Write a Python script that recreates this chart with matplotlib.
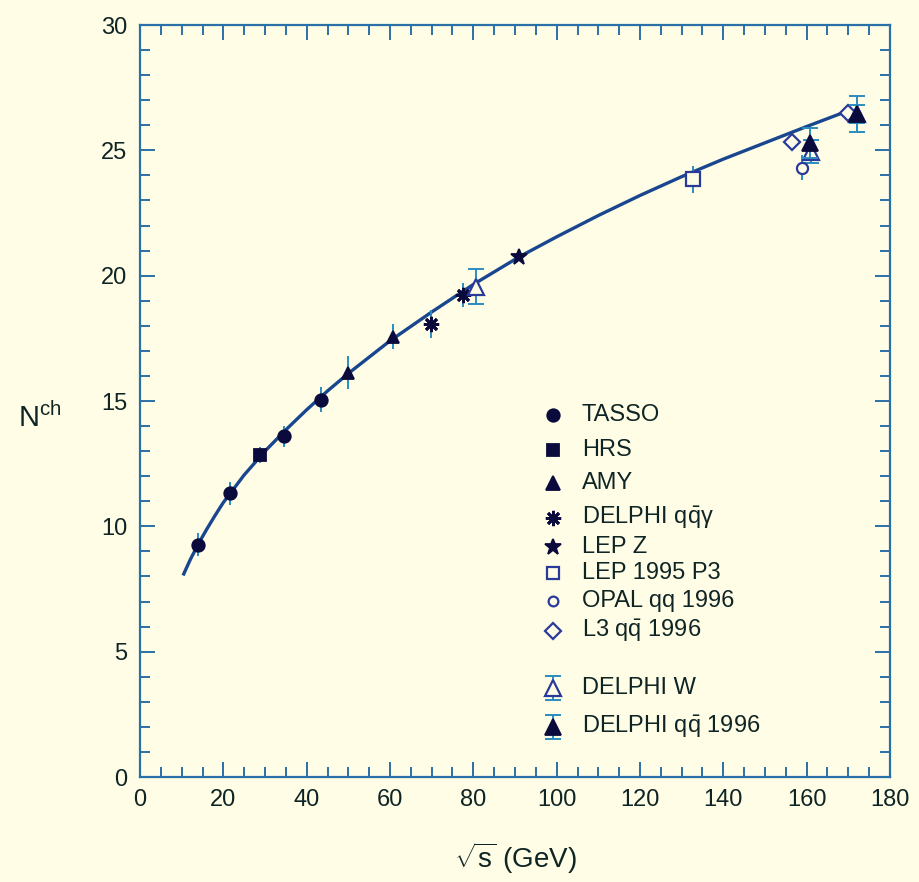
import matplotlib
matplotlib.use("Agg")
import matplotlib.pyplot as plt

plt.rcParams['font.family'] = ['Liberation Sans', 'DejaVu Sans']
plt.rcParams['mathtext.fontset'] = 'custom'
plt.rcParams['mathtext.rm'] = 'Liberation Sans'
plt.rcParams['mathtext.it'] = 'Liberation Sans:italic'
plt.rcParams['mathtext.bf'] = 'Liberation Sans:bold'

# ---------------- data ----------------
curve_x = [10.5, 12, 14, 16, 18, 20, 25, 30, 35, 40, 45, 50, 60, 70, 80, 91,
           100, 110, 120, 130, 140, 150, 160, 169.5]
curve_y = [8.1, 8.65, 9.3, 9.88, 10.43, 10.95, 12.05, 13.0, 13.85, 14.65, 15.4, 16.1,
           17.4, 18.55, 19.65, 20.75, 21.55, 22.4, 23.2, 23.95, 24.65, 25.3, 25.95, 26.55]

tasso_x = [13.8, 21.6, 34.6, 43.4]
tasso_y = [9.27, 11.32, 13.6, 15.05]
tasso_e = [0.45, 0.45, 0.42, 0.5]

hrs_x = [28.8]
hrs_y = [12.84]
hrs_e = [0.33]

amy_x = [49.8, 60.8]
amy_y = [16.13, 17.56]
amy_e = [0.65, 0.5]

dqqg_x = [69.8, 77.6]
dqqg_y = [18.07, 19.23]
dqqg_e = [0.55, 0.47]

lepz_x = [91.0]
lepz_y = [20.75]
lepz_e = [0.15]

lep95_x = [132.8]
lep95_y = [23.84]
lep95_e = [0.55]

opal_x = [158.8]
opal_y = [24.31]
opal_e = [0.5]

l3_x = [156.6, 169.8]
l3_y = [25.35, 26.47]
l3_e = [0.3, 0.3]

dw_x = [80.6, 161.0, 172.2]
dw_y = [19.56, 24.95, 26.45]
dw_e = [0.7, 0.45, 0.7]

dqq_x = [160.8, 172.2]
dqq_y = [25.3, 26.45]
dqq_e = [0.6, 0.35]

legend_labels = ['TASSO', 'HRS', 'AMY', r'DELPHI q$\mathrm{\bar{q}}$γ', 'LEP Z',
                 'LEP 1995 P3', 'OPAL qq 1996', r'L3 q$\mathrm{\bar{q}}$ 1996',
                 'DELPHI W', r'DELPHI q$\mathrm{\bar{q}}$ 1996']

xticks = [0, 20, 40, 60, 80, 100, 120, 140, 160, 180]
yticks = [0, 5, 10, 15, 20, 25, 30]

# ---------------- style ----------------
BG = '#FFFDE6'
AXC = '#2a70a8'
TXT = '#0f2424'
CURVE = '#18468f'
FILL = '#0a0a3c'
OPEN = '#2a3a9a'
ERR = '#2a8cc0'

fig = plt.figure(figsize=(9.2, 8.82), dpi=100, facecolor=BG)
ax = fig.add_axes([140/920, 1-777/882, 750/920, 752/882], facecolor=BG)

ax.plot(curve_x, curve_y, color=CURVE, lw=2.4, zorder=2)

def pts(x, y, e, marker, ms, filled=True, mew=1.3, capsize=0, z=3):
    ax.errorbar(x, y, yerr=e, fmt='none', ecolor=ERR, elinewidth=1.4,
                capsize=capsize, capthick=1.4, zorder=z)
    if filled:
        ax.plot(x, y, ls='none', marker=marker, ms=ms, mfc=FILL, mec=FILL,
                mew=mew, zorder=z + 1)
    else:
        ax.plot(x, y, ls='none', marker=marker, ms=ms, mfc=BG, mec=OPEN,
                mew=mew, zorder=z + 1)

pts(tasso_x, tasso_y, tasso_e, 'o', 9)
pts(hrs_x, hrs_y, hrs_e, 's', 8)
pts(amy_x, amy_y, amy_e, '^', 9)
pts(dqqg_x, dqqg_y, dqqg_e, (8, 2, 0), 11, mew=2.0)
pts(lepz_x, lepz_y, lepz_e, '*', 12)
pts(lep95_x, lep95_y, lep95_e, 's', 10, filled=False, mew=1.6)
pts(opal_x, opal_y, opal_e, 'o', 8, filled=False, mew=1.6)
pts(l3_x, l3_y, l3_e, 'D', 8, filled=False, mew=1.6)
pts(dw_x, dw_y, dw_e, '^', 11, filled=False, mew=1.6, capsize=6)
pts(dqq_x, dqq_y, dqq_e, '^', 11, capsize=6, z=5)

ax.set_xlim(0, 180)
ax.set_ylim(0, 30)
ax.set_xticks(xticks)
ax.set_yticks(yticks)
ax.set_xticks(range(0, 181, 5), minor=True)
ax.set_yticks(range(0, 31, 1), minor=True)
ax.tick_params(which='both', direction='in', top=True, right=True, color=AXC,
               width=1.4, labelcolor=TXT, labelsize=17)
ax.tick_params(which='major', length=11, pad=9)
ax.tick_params(which='minor', length=7)
for s in ax.spines.values():
    s.set_color(AXC)
    s.set_linewidth(1.6)

# legend drawn manually
mx = (553 - 140) / 750
tx = (582 - 140) / 750
rows_px = [415, 450, 483, 518, 547, 573, 601, 631, 688, 727]
specs = [('o', 9, True, 1.3), ('s', 8, True, 1.3), ('^', 10, True, 1.3),
         ((8, 2, 0), 11, True, 2.0), ('*', 12, True, 1.3), ('s', 9, False, 1.6),
         ('o', 7, False, 1.6), ('D', 8, False, 1.6), ('^', 11, False, 1.6),
         ('^', 11, True, 1.3)]
for i, (lab, ypx, (m, ms, f, mew)) in enumerate(zip(legend_labels, rows_px, specs)):
    yy = (777 - ypx) / 752
    if i >= 8:
        ax.errorbar([mx], [yy], yerr=[0.016], fmt='none', ecolor=ERR,
                    elinewidth=1.4, capsize=6, capthick=1.4,
                    transform=ax.transAxes, zorder=3)
    ax.plot([mx], [yy], ls='none', marker=m, ms=ms,
            mfc=FILL if f else BG, mec=FILL if f else OPEN, mew=mew,
            transform=ax.transAxes, zorder=4, clip_on=False)
    ax.text(tx, yy, lab, transform=ax.transAxes, va='center', ha='left',
            fontsize=17, color=TXT)

fig.text(18 / 920, 1 - 418 / 882, r'N$^{\mathrm{ch}}$', fontsize=21, color=TXT,
         ha='left', va='center')
fig.text(515 / 920, 1 - 858 / 882, r'$\sqrt{\mathrm{s}}$ (GeV)', fontsize=20,
         color=TXT, ha='center', va='center')

fig.savefig('out.png', dpi=100, facecolor=BG)
